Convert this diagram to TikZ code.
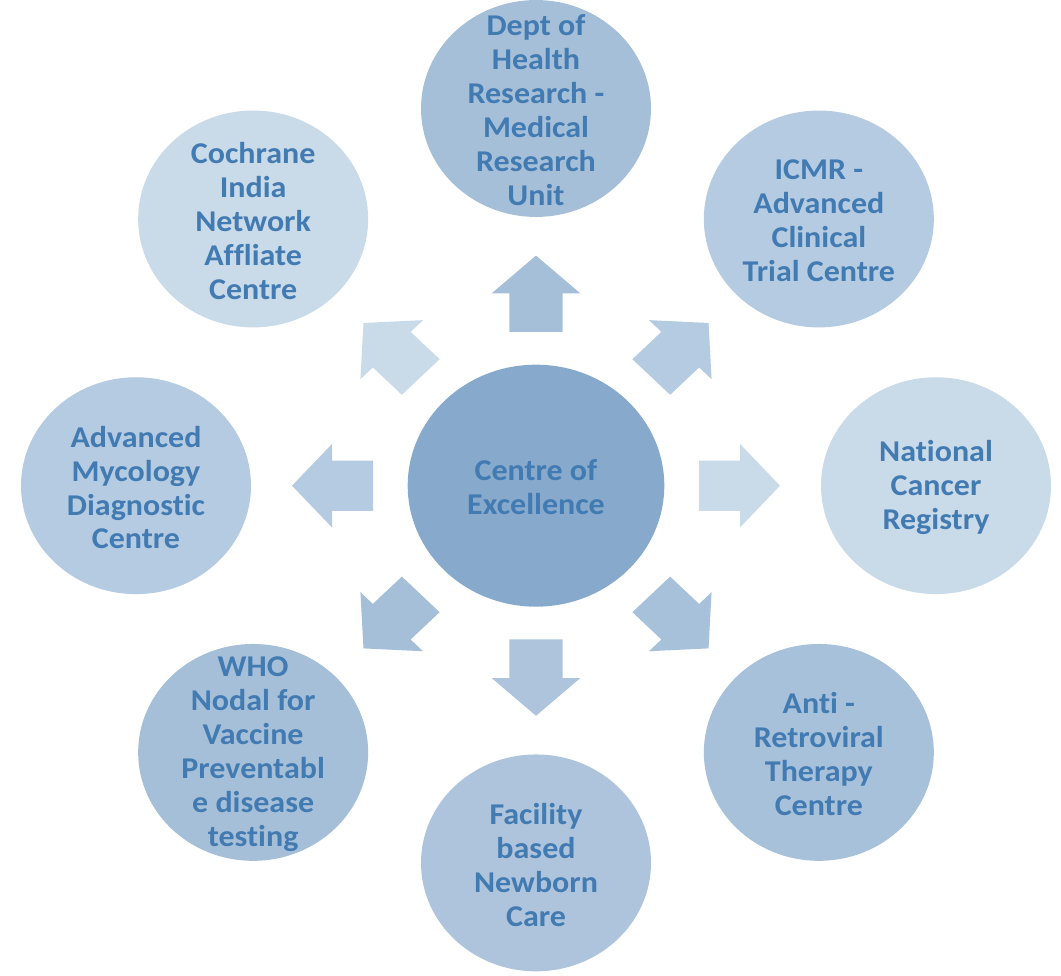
\documentclass[tikz,border=0pt]{standalone}
\usepackage{fontspec}
\setmainfont[Ligatures={NoCommon,NoRare}]{Carlito}
\definecolor{txt}{RGB}{66,122,178}
\definecolor{cC}{RGB}{135,169,203}
\definecolor{cT}{RGB}{165,191,216}
\definecolor{cTR}{RGB}{180,203,225}
\definecolor{cR}{RGB}{201,218,233}
\definecolor{cBR}{RGB}{167,193,218}
\definecolor{cB}{RGB}{173,196,220}
\definecolor{cBL}{RGB}{165,191,216}
\definecolor{cL}{RGB}{180,203,225}
\definecolor{cTL}{RGB}{201,218,233}
\tikzset{
  bub/.style={circle, draw=none, minimum size=230pt, inner sep=0pt, transform shape},
  lbl/.style={transform shape, align=center, inner sep=0pt, text=txt,
    font=\fontsize{32}{36}\selectfont\bfseries},
  blockarrow/.style={draw=none}
}
\begin{document}
\begin{tikzpicture}[x=1pt,y=1pt]
\useasboundingbox (0,0) rectangle (1061,976);
\begin{scope}[shift={(536,490.3)}, yscale=0.943]
  \node[bub, fill=cC, minimum size=256.6pt, label={[lbl,yshift=-2pt]center:Centre of\\Excellence}] (c) at (0,0) {};
  \node[bub, fill=cT, label={[lbl,yshift=-2pt]center:Dept of\\Health\\Research -\\Medical\\Research\\Unit}] (t) at (90:400) {};
  \node[bub, fill=cTR, label={[lbl,yshift=-2pt]center:ICMR -\\Advanced\\Clinical\\Trial Centre}] (tr) at (45:400) {};
  \node[bub, fill=cR, label={[lbl,yshift=-2pt]center:National\\Cancer\\Registry}] (r) at (0:400) {};
  \node[bub, fill=cBR, label={[lbl,yshift=-2pt]center:Anti -\\Retroviral\\Therapy\\Centre}] (br) at (-45:400) {};
  \node[bub, fill=cB, label={[lbl,yshift=-2pt]center:Facility\\based\\Newborn\\Care}] (b) at (-90:400) {};
  \node[bub, fill=cBL, label={[lbl,yshift=-2pt]center:WHO\\Nodal for\\Vaccine\\Preventabl\\e disease\\testing}] (bl) at (-135:400) {};
  \node[bub, fill=cL, label={[lbl,yshift=-2pt]center:Advanced\\Mycology\\Diagnostic\\Centre}] (l) at (180:400) {};
  \node[bub, fill=cTL, label={[lbl,yshift=-2pt]center:Cochrane\\India\\Network\\Affliate\\Centre}] (tl) at (135:400) {};
  \foreach \a/\col in {90/cT, 45/cTR, 0/cR, -45/cBR, -90/cB, -135/cBL, 180/cL, 135/cTL}{
    \fill[\col, blockarrow, rotate=\a] (163,-26.7) -- (204,-26.7) -- (204,-44.3) -- (244,0)
      -- (204,44.3) -- (204,26.7) -- (163,26.7) -- cycle;
  }
\end{scope}
\end{tikzpicture}
\end{document}
